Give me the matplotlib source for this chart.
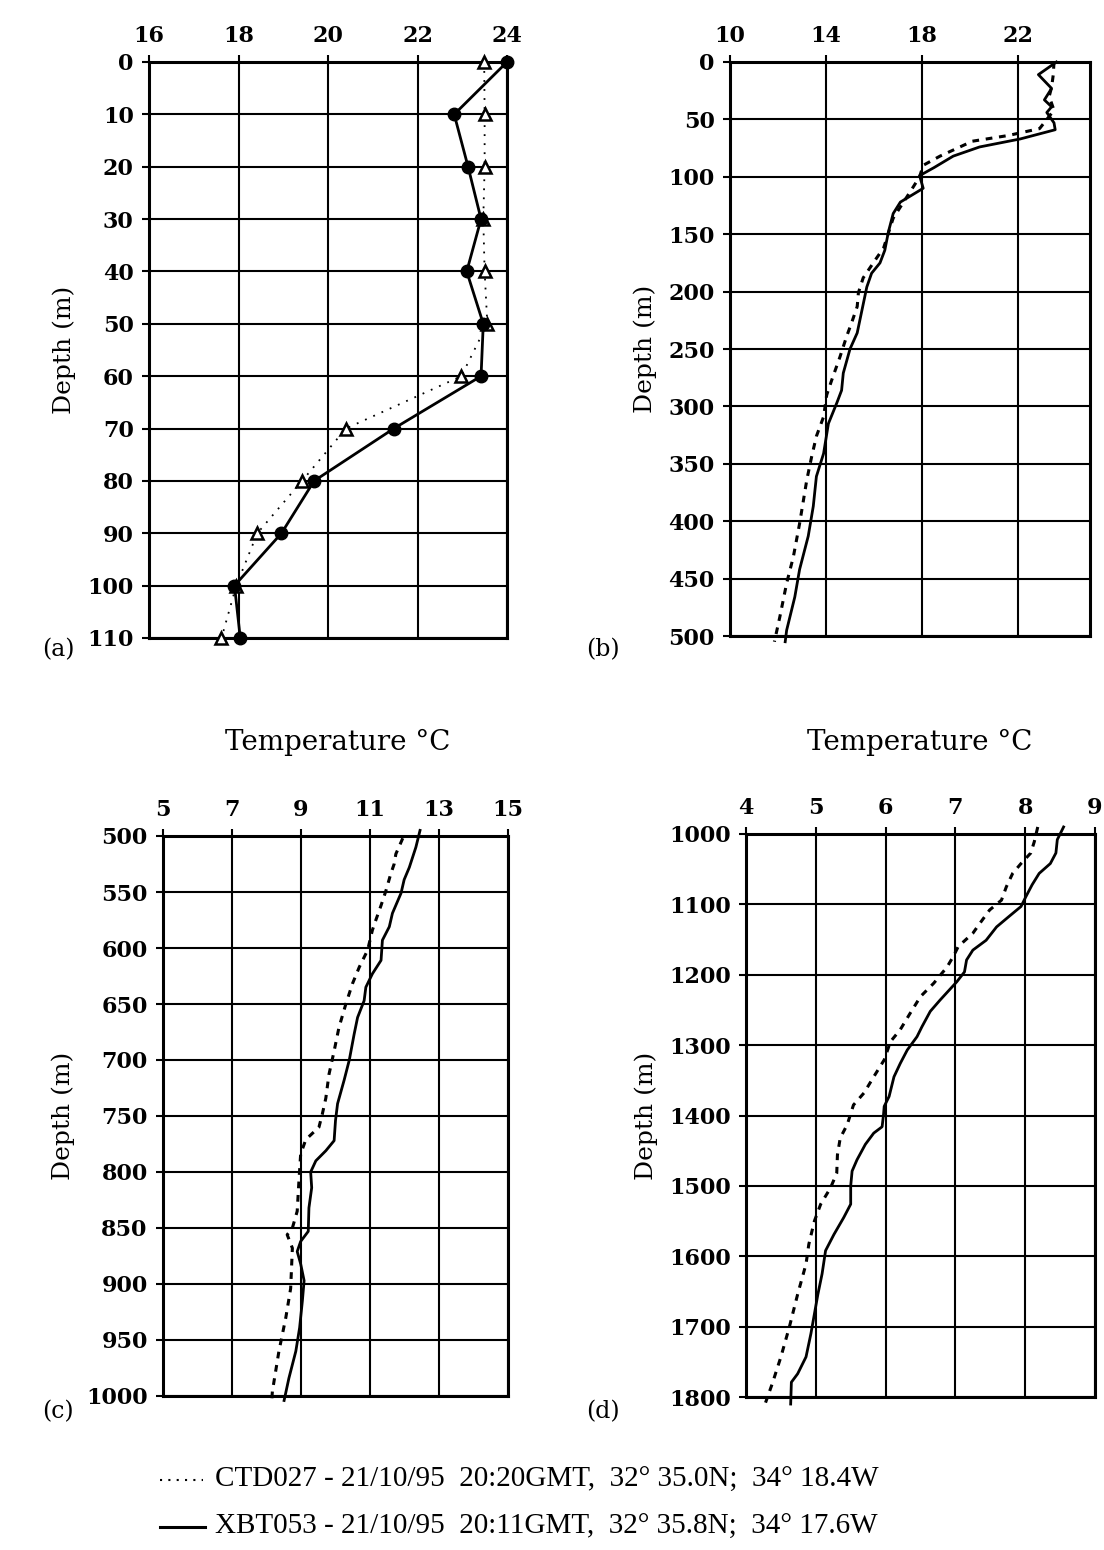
import numpy as np
import matplotlib
matplotlib.use("Agg")
import matplotlib.pyplot as plt

plt.rcParams['font.family'] = ['DejaVu Serif']

# ---- panel (a): 0-110 m, discrete points
depth_a = [0, 10, 20, 30, 40, 50, 60, 70, 80, 90, 100, 110]
xbt_a = [24.0, 22.82, 23.13, 23.42, 23.1, 23.47, 23.42, 21.47, 19.69, 18.96, 17.91, 18.04]
ctd_a = [23.49, 23.5, 23.5, 23.47, 23.5, 23.56, 22.98, 20.4, 19.42, 18.42, 17.95, 17.62]

# ---- panel (b): 0-500 m
depth_b_xbt = [0, 11, 23, 33, 39, 44, 53, 59, 67, 74, 82, 92, 99, 110, 122, 132, 148, 164,
               175, 184, 196, 216, 236, 250, 271, 286, 297, 315, 341, 361, 387, 413, 442,
               466, 495, 505]
temp_b_xbt = [23.6, 22.85, 23.4, 23.1, 23.4, 23.2, 23.5, 23.55, 22.1, 20.4, 19.3, 18.5, 17.9,
              18.05, 17.1, 16.8, 16.6, 16.45, 16.25, 15.9, 15.7, 15.5, 15.3, 15.0, 14.72,
              14.65, 14.45, 14.1, 13.9, 13.6, 13.47, 13.26, 12.9, 12.7, 12.36, 12.3]
depth_b_ctd = [0, 11, 22, 30, 42, 58, 64, 69, 82, 90, 100, 111, 136, 162, 171, 188, 201, 213,
               227, 239, 257, 277, 290, 309, 326, 344, 364, 402, 431, 454, 483, 505]
temp_b_ctd = [23.5, 23.47, 23.4, 23.3, 23.5, 22.9, 21.6, 20.1, 18.75, 18.05, 17.9, 17.57, 16.8,
              16.4, 16.1, 15.55, 15.35, 15.3, 15.07, 14.86, 14.58, 14.24, 14.03, 13.9, 13.6,
              13.4, 13.2, 12.9, 12.64, 12.36, 12.08, 11.85]

# ---- panel (c): 500-1000 m
depth_c_xbt = [495, 510, 528, 539, 551, 569, 581, 593, 611, 623, 635, 647, 662, 677, 700, 718,
               739, 754, 772, 781, 790, 800, 814, 832, 853, 862, 871, 882, 897, 915, 939, 960,
               984, 1004]
temp_c_xbt = [12.45, 12.33, 12.14, 11.99, 11.9, 11.65, 11.56, 11.36, 11.32, 11.07, 10.88, 10.83,
              10.64, 10.54, 10.4, 10.25, 10.06, 10.0, 9.96, 9.72, 9.43, 9.28, 9.31, 9.23, 9.21,
              8.99, 8.89, 8.99, 9.09, 9.04, 8.96, 8.85, 8.65, 8.51]
depth_c_ctd = [502, 516, 525, 534, 549, 562, 575, 584, 602, 617, 632, 650, 671, 692, 713, 734,
               748, 760, 771, 784, 808, 835, 850, 856, 868, 904, 930, 960, 996, 1005]
temp_c_ctd = [11.95, 11.75, 11.7, 11.6, 11.46, 11.32, 11.17, 11.07, 10.93, 10.69, 10.49, 10.3,
              10.1, 9.96, 9.81, 9.72, 9.62, 9.52, 9.14, 8.99, 8.94, 8.89, 8.75, 8.6, 8.75, 8.7,
              8.56, 8.36, 8.17, 8.15]

# ---- panel (d): 1000-1800 m
depth_d_xbt = [990, 1008, 1027, 1042, 1056, 1072, 1089, 1103, 1117, 1132, 1151, 1165, 1179,
               1196, 1210, 1236, 1252, 1274, 1288, 1307, 1326, 1345, 1373, 1387, 1399, 1416,
               1425, 1441, 1463, 1479, 1500, 1526, 1545, 1569, 1592, 1625, 1654, 1682, 1710,
               1743, 1767, 1779, 1810]
temp_d_xbt = [8.55, 8.46, 8.44, 8.36, 8.2, 8.1, 8.01, 7.94, 7.77, 7.59, 7.44, 7.25, 7.16, 7.13,
              7.02, 6.78, 6.64, 6.52, 6.45, 6.31, 6.21, 6.12, 6.05, 5.98, 5.97, 5.95, 5.83, 5.71,
              5.59, 5.52, 5.5, 5.5, 5.4, 5.26, 5.14, 5.09, 5.03, 4.98, 4.93, 4.86, 4.74, 4.65,
              4.64]
depth_d_ctd = [990, 1011, 1027, 1042, 1056, 1075, 1094, 1108, 1127, 1141, 1160, 1174, 1189,
               1212, 1231, 1255, 1278, 1295, 1321, 1345, 1368, 1385, 1413, 1432, 1456, 1482,
               1503, 1526, 1550, 1583, 1611, 1654, 1701, 1743, 1780, 1808]
temp_d_ctd = [8.18, 8.13, 8.08, 7.94, 7.82, 7.73, 7.66, 7.49, 7.35, 7.25, 7.04, 6.97, 6.88,
              6.69, 6.5, 6.35, 6.21, 6.07, 5.98, 5.83, 5.69, 5.54, 5.45, 5.35, 5.31, 5.3, 5.21,
              5.07, 4.98, 4.9, 4.86, 4.74, 4.62, 4.5, 4.38, 4.28]

ctd_label = "CTD027 - 21/10/95  20:20GMT,  32\u00b0 35.0N;  34\u00b0 18.4W"
xbt_label = "XBT053 - 21/10/95  20:11GMT,  32\u00b0 35.8N;  34\u00b0 17.6W"

W, H = 1104, 1550
fig = plt.figure(figsize=(W / 100, H / 100), dpi=100)


def box(l, t, r, b):
    return [l / W, 1 - b / H, (r - l) / W, (b - t) / H]


def setup(ax, xlim, xticks, ylim, yticks):
    ax.set_xlim(*xlim)
    ax.set_ylim(ylim[1], ylim[0])
    ax.set_xticks(xticks)
    ax.set_yticks(yticks)
    ax.xaxis.tick_top()
    ax.grid(True, color='black', lw=1.5)
    for s in ax.spines.values():
        s.set_linewidth(2.2)
    ax.tick_params(axis='both', length=5, width=1.5, labelsize=16, pad=6)
    for lab in ax.get_xticklabels() + ax.get_yticklabels():
        lab.set_fontweight('bold')
    ax.set_ylabel("Depth (m)", fontsize=18, labelpad=8)


dash = (0, (2.2, 2.2))

# (a)
ax = fig.add_axes(box(149, 62, 507, 638))
setup(ax, (16, 24), [16, 18, 20, 22, 24], (0, 110), range(0, 111, 10))
ax.plot(ctd_a, depth_a, color='black', lw=1.3, ls=(0, (1, 4)), marker='^', ms=8,
        mfc='white', mec='black', mew=1.8, clip_on=False, zorder=3)
ax.plot(xbt_a, depth_a, color='black', lw=2.0, marker='o', ms=9,
        clip_on=False, zorder=4)

# (b)
ax = fig.add_axes(box(730, 62, 1090, 636))
setup(ax, (10, 25), [10, 14, 18, 22], (0, 500), range(0, 501, 50))
ax.plot(temp_b_ctd, depth_b_ctd, color='black', lw=2.2, ls=dash, clip_on=False)
ax.plot(temp_b_xbt, depth_b_xbt, color='black', lw=2.0, clip_on=False)

# (c)
ax = fig.add_axes(box(163, 836, 508, 1396))
setup(ax, (5, 15), [5, 7, 9, 11, 13, 15], (500, 1000), range(500, 1001, 50))
ax.plot(temp_c_ctd, depth_c_ctd, color='black', lw=2.2, ls=dash, clip_on=False)
ax.plot(temp_c_xbt, depth_c_xbt, color='black', lw=2.0, clip_on=False)

# (d)
ax = fig.add_axes(box(746, 834, 1095, 1397))
setup(ax, (4, 9), [4, 5, 6, 7, 8, 9], (1000, 1800), range(1000, 1801, 100))
ax.plot(temp_d_ctd, depth_d_ctd, color='black', lw=2.2, ls=dash, clip_on=False)
ax.plot(temp_d_xbt, depth_d_xbt, color='black', lw=2.0, clip_on=False)

# panel letters and titles
for txt, x, y in [("(a)", 58, 650), ("(b)", 603, 650), ("(c)", 58, 1412), ("(d)", 603, 1412)]:
    fig.text(x / W, 1 - y / H, txt, fontsize=17, ha='center', va='center')
fig.text(338 / W, 1 - 742 / H, "Temperature \u00b0C", fontsize=20, ha='center', va='center')
fig.text(920 / W, 1 - 742 / H, "Temperature \u00b0C", fontsize=20, ha='center', va='center')

# legend drawn by hand
fig.add_artist(plt.Line2D([160 / W, 203 / W], [1 - 1480 / H] * 2, color='black', lw=1.5,
                          ls=(0, (1, 3))))
fig.add_artist(plt.Line2D([160 / W, 205 / W], [1 - 1527 / H] * 2, color='black', lw=2.2))
fig.text(215 / W, 1 - 1480 / H, ctd_label, fontsize=21, va='center', family='Liberation Serif')
fig.text(215 / W, 1 - 1527 / H, xbt_label, fontsize=21, va='center', family='Liberation Serif')

fig.savefig("out.png", dpi=100)
